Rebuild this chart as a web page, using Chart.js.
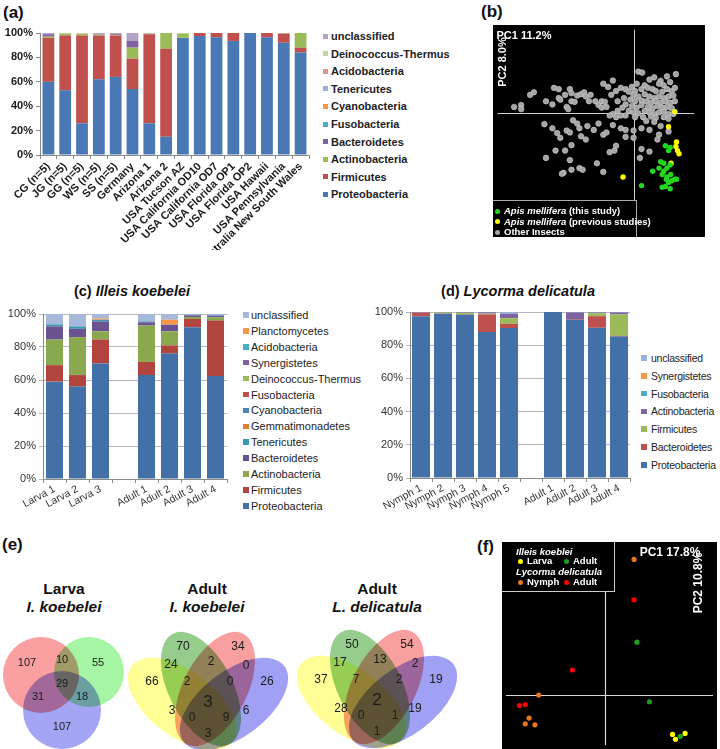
<!DOCTYPE html>
<html><head><meta charset="utf-8">
<script src="https://cdn.jsdelivr.net/npm/chart.js@4/dist/chart.umd.min.js"></script>
<style>
body{margin:0;width:720px;height:749px;position:relative;background:#fff;font-family:"Liberation Sans",Arial,sans-serif;overflow:hidden}
canvas{position:absolute}
.pl{position:absolute;font-weight:bold;font-size:17px;color:#111;line-height:1}
.t{position:absolute;transform:translate(-50%,-50%);white-space:nowrap;line-height:1}
.lg{position:absolute;white-space:nowrap;line-height:1;transform:translateY(-50%)}
.sq{position:absolute}
.bx{position:absolute;background:#000;color:#fff;font-weight:bold;box-sizing:border-box}
.dot{display:inline-block;border-radius:50%;width:5px;height:5px;margin-right:4px;vertical-align:middle}
.li{position:absolute;white-space:nowrap;font-size:9.5px;line-height:1}
</style></head><body>
<div class="pl" style="left:3px;top:4px">(a)</div>
<div class="pl" style="left:481px;top:3px">(b)</div>
<div class="pl" style="left:2px;top:536px">(e)</div>
<div class="pl" style="left:477px;top:538px">(f)</div>

<canvas id="ca" width="316" height="250" style="left:0;top:0"></canvas>
<canvas id="cb" width="212" height="212" style="left:493px;top:25px"></canvas>
<canvas id="cc" width="232" height="230" style="left:0;top:300px"></canvas>
<canvas id="cd" width="268" height="230" style="left:367px;top:300px"></canvas>
<canvas id="ce" width="470" height="129" style="left:0;top:620px"></canvas>
<canvas id="cf" width="215" height="207" style="left:502px;top:542px"></canvas>

<script>
// ---------- DATA ----------
// (a) honey bee gut phyla, stacked bottom -> top
const aCats = ['CG (n=5)','JG (n=5)','GG (n=5)','WS (n=5)','SS (n=5)','Germany','Arizona 1','Arizona 2','USA Tucson AZ','USA California OD10','USA California OD7','USA Florida OP1','USA Florida OP2','USA Hawaii','USA Pennsylvania','Australia New South Wales'];
const aSeries = ['Proteobacteria','Firmicutes','Actinobacteria','Bacteroidetes','Fusobacteria','Cyanobacteria','Tenericutes','Acidobacteria','Deinococcus-Thermus','unclassified'];
const aProteobacteria = [60,53,26,62,64,54,26,15,96,97.5,96.5,93.5,100,96.5,92,84];
const aFirmicutes     = [36,45,72,36,34,25,73,72,0,2.5,3.5,6.5,0,3.5,7.5,4];
const aActinobacteria = [1,1.5,1.2,0.8,0.5,9,0.5,13,3.5,0,0,0,0,0,0.3,12];
const aBacteroidetes  = [2,0,0,0.6,1,5.5,0,0,0,0,0,0,0,0,0,0];
const aFusobacteria   = [0,0,0,0,0,0,0,0,0,0,0,0,0,0,0,0];
const aCyanobacteria  = [0,0,0,0,0,0,0,0,0,0,0,0,0,0,0,0];
const aTenericutes    = [0,0,0,0,0,0,0,0,0,0,0,0,0,0,0,0];
const aAcidobacteria  = [0,0,0,0,0,0,0,0,0,0,0,0,0,0,0,0];
const aDeinococcus    = [0,0.5,0.5,0,0,0,0,0,0.5,0,0,0,0,0,0,0];
const aUnclassified   = [1,0,0.3,0.6,0.5,6.5,0.5,0,0,0,0,0,0,0,0.2,0];
const aTicks = [0,20,40,60,80,100];

// (b) PCA (positions, PC1 right, PC2 down-reversed units)
const bAxisCross = [497,338];
const bApisThis = [[595,440],[610,445],[605,455],[580,490],[590,495],[555,520],[575,510],[590,520],[585,530],[600,510],[610,500],[598,545],[605,555],[615,550],[625,545],[630,545],[585,570],[595,568],[610,575],[520,565],[612,530],[600,538]];
const bApisPrev = [[625,333],[605,380],[630,428],[628,442],[633,455],[638,465],[613,495],[462,538]];
const bOther = [[120,318],[142,312],[142,325],[170,280],[182,272],[220,300],[240,310],[245,258],[260,262],[260,290],[265,295],[280,280],[285,318],[290,325],[295,262],[300,275],[300,300],[310,302],[318,282],[330,278],[340,272],[345,285],[355,300],[360,280],[375,300],[385,312],[395,300],[395,320],[400,245],[405,302],[410,318],[415,255],[430,235],[425,280],[440,268],[455,258],[465,290],[470,310],[445,300],
[215,372],[240,385],[255,400],[265,415],[285,392],[295,398],[300,438],[305,360],[318,370],[325,385],[330,410],[345,420],[350,378],[370,390],[385,370],[400,405],[410,398],[430,375],[455,385],[420,460],[435,455],[220,478],[250,455],[280,455],[295,485],[300,515],[275,525],[270,528],[325,510],[335,515],[380,495],[400,522],[440,440],[470,390],[470,412],
[510,207],[522,210],[628,215],[600,222],[560,225],[545,232],[580,236],[610,240],[575,245],[590,250],[530,250],[505,245],[490,255],[470,262],[480,270],[500,268],[520,262],[540,258],[555,262],[565,268],[585,270],[600,262],[615,268],[625,258],[495,280],[510,285],[530,278],[545,285],[560,290],[575,285],[590,290],[605,285],[620,282],[485,295],[500,300],[520,298],[535,300],[550,305],[565,300],[580,305],[595,300],[610,305],[625,300],[490,315],[505,320],[520,312],[540,318],[555,322],[570,315],[585,320],[600,318],[615,322],[480,330],[495,335],[510,338],[530,330],[545,335],[560,340],[575,335],[590,332],[605,340],[470,345],[500,350],[525,350],[550,348],[565,352],[590,350],[605,355],[445,330],[430,340],[440,350],[455,345],[460,320],[420,345],[620,340],
[535,362],[560,365],[580,378],[605,395],[520,385],[545,390],[575,405],[495,392],[495,415],[520,450],[515,478],[545,458],[570,420]];

// (c) Illeis koebelei
const cCats = ['Larva 1','Larva 2','Larva 3','','Adult 1','Adult 2','Adult 3','Adult 4'];
const cSeries = ['Proteobacteria','Firmicutes','Actinobacteria','Bacteroidetes','Tenericutes','Gemmatimonadetes','Cyanobacteria','Fusobacteria','Deinococcus-Thermus','Synergistetes','Acidobacteria','Planctomycetes','unclassified'];
const cProteobacteria = [59,56,70,null,63,76,92,62.5];
const cFirmicutes     = [10,7,14.5,null,8,5,5,33.5];
const cActinobacteria = [15.5,23,5,null,22,8.5,1.2,2];
const cBacteroidetes  = [8,5,6,null,2,4,1,1];
const cTenericutes    = [1.2,1.5,1,null,0.5,0,0.3,0.3];
const cGemmatimonadetes=[0,0,0.3,null,0,0,0,0];
const cCyanobacteria  = [0,0,0,null,0,0,0,0];
const cFusobacteria   = [0,0,0,null,0,0,0,0];
const cDeinococcus    = [0,0,0,null,0,0,0,0];
const cSynergistetes  = [0,0,0,null,0,0,0,0];
const cAcidobacteria  = [0,0,0,null,0,0,0,0];
const cPlanctomycetes = [0,0,0.5,null,0,3,0,0];
const cUnclassified   = [6.3,7.5,2.7,null,4.5,3.5,0.5,0.7];

// (d) Lycorma delicatula
const dCats = ['Nymph 1','Nymph 2','Nymph 3','Nymph 4','Nymph 5','','Adult 1','Adult 2','Adult 3','Adult 4'];
const dSeries = ['Proteobacteria','Bacteroidetes','Firmicutes','Actinobacteria','Fusobacteria','Synergistetes','unclassified'];
const dProteobacteria = [97.5,98.9,98.3,87.9,90.3,null,100,95.3,90.5,85.2];
const dBacteroidetes  = [2,0.2,0.2,10.6,2.6,null,0,0.4,7,0.5];
const dFirmicutes     = [0,0.6,1,0.5,3.4,null,0,0,1.8,12.8];
const dActinobacteria = [0.3,0.2,0.3,0.8,2.7,null,0,4,0.4,1.2];
const dFusobacteria   = [0,0,0,0,0,null,0,0,0,0];
const dSynergistetes  = [0,0,0,0,0,null,0,0,0,0];
const dUnclassified   = [0.2,0.1,0.2,0.2,1,null,0,0.3,0.3,0.3];

// (e) Venn counts
const vennLarvaCounts   = [107,10,55,31,29,18,107];
const vennAdultIkCounts = [70,34,24,2,0,66,2,0,26,3,3,0,9,6,3];
const vennAdultLdCounts = [50,54,17,13,2,37,7,2,19,2,28,0,1,19,1];

// (f) PCA
const fLarvaIk = [[0.70,-0.41],[0.73,-0.46],[0.83,-0.40]];
const fAdultIk = [[0.33,0.55],[0.46,-0.07],[0.78,-0.43]];
const fNymphLd = [[0.30,1.41],[-0.69,0.00],[-0.79,-0.24],[-0.83,-0.30],[-0.73,-0.31]];
const fAdultLd = [[0.30,0.99],[-0.34,0.26],[-0.89,-0.11],[-0.83,-0.10]];

// ---------- STYLE ----------
const FONT = '"Liberation Sans", Arial, sans-serif';
const aColors = ['#4A78B4','#C0504D','#9BBB59','#8064A2','#4BACC6','#F79646','#95B3D7','#D99694','#C3D69B','#B3A2C7'];
const cColors = ['#4470A8','#B2443F','#8AA84D','#6B5391','#3A98B0','#DE7F35','#4F81BD','#C0504D','#9BBB59','#8064A2','#4BACC6','#F79646','#A6B9DB'];
const dColors = ['#4470A8','#C0504D','#9BBB59','#8064A2','#4BACC6','#F79646','#95B3D7'];

Chart.defaults.font.family = FONT;
Chart.defaults.animation = false;

function legendHTML(names, colors, o) {
  names.forEach((n, i) => {
    const idx = names.length - 1 - i; // top item = last series
    const y = o.y + i * o.step;
    const s = document.createElement('div'); s.className = 'sq';
    s.style.cssText = `left:${o.sx}px;top:${y - o.sz/2}px;width:${o.sz}px;height:${o.sz}px;background:${colors[idx]}`;
    document.body.appendChild(s);
    const t = document.createElement('div'); t.className = 'lg';
    t.textContent = names[idx];
    t.style.cssText = `left:${o.tx}px;top:${y}px;font-size:${o.fs}px;font-weight:${o.bold?'bold':'normal'};color:${o.color};letter-spacing:${o.ls||0}px`;
    document.body.appendChild(t);
  });
}
function text(html, x, y, css) {
  const d = document.createElement('div'); d.className = 't'; d.innerHTML = html;
  d.style.cssText = `left:${x}px;top:${y}px;` + (css || '');
  document.body.appendChild(d);
}

function stackedBar(id, cats, series, values, colors, cfg) {
  return new Chart(document.getElementById(id), {
    type: 'bar',
    data: { labels: cats, datasets: series.map((s, i) => ({ label: s, data: values[i], backgroundColor: colors[i], borderWidth: 0, barPercentage: cfg.bp, categoryPercentage: 1 })) },
    options: {
      responsive: false,
      plugins: { legend: { display: false }, tooltip: { enabled: false } },
      layout: { padding: { top: cfg.top, right: cfg.right, left: 0, bottom: 0 } },
      scales: {
        x: { stacked: true,
             grid: { display: true, drawOnChartArea: false, offset: true, tickLength: 4, color: '#8a8a8a' },
             border: { color: '#8a8a8a' },
             ticks: { minRotation: cfg.rot, maxRotation: cfg.rot, autoSkip: false, padding: cfg.tpad, color: cfg.tickColor,
                      font: { size: cfg.xfs, weight: cfg.bold ? 'bold' : 'normal' } },
             afterFit: s => { s.height = cfg.xh; } },
        y: { stacked: true, min: 0, max: 100,
             afterBuildTicks: s => { s.ticks = aTicks.map(v => ({ value: v })); },
             grid: { drawOnChartArea: cfg.grid, tickLength: 4, color: cfg.grid ? '#b8b8b8' : '#8a8a8a' },
             border: { color: '#8a8a8a' },
             ticks: { callback: v => v + '%', color: cfg.tickColor, padding: 3, font: { size: cfg.yfs, weight: cfg.bold ? 'bold' : 'normal' } },
             afterFit: s => { s.width = cfg.yw; } }
      }
    }
  });
}

// (a)
stackedBar('ca', aCats, aSeries,
  [aProteobacteria,aFirmicutes,aActinobacteria,aBacteroidetes,aFusobacteria,aCyanobacteria,aTenericutes,aAcidobacteria,aDeinococcus,aUnclassified],
  aColors, { bp: 0.7, top: 33, right: 7, rot: 45, xh: 95, yw: 40, xfs: 11, yfs: 11, bold: true, grid: false, tickColor: '#1a1a1a', tpad: 1 });
legendHTML(aSeries, aColors, { sx: 323, tx: 331, y: 36, step: 17.6, sz: 5, fs: 11, bold: true, color: '#222' });

// (c)
stackedBar('cc', cCats, cSeries,
  [cProteobacteria,cFirmicutes,cActinobacteria,cBacteroidetes,cTenericutes,cGemmatimonadetes,cCyanobacteria,cFusobacteria,cDeinococcus,cSynergistetes,cAcidobacteria,cPlanctomycetes,cUnclassified],
  cColors, { bp: 0.74, top: 14, right: 5, rot: 28, xh: 51, yw: 43, xfs: 10.5, yfs: 11, bold: false, grid: true, tickColor: '#333', tpad: 0 });
legendHTML(cSeries, cColors, { sx: 243, tx: 251, y: 315, step: 15.9, sz: 5.5, fs: 11, bold: false, color: '#222' });
text('(c) <i>Illeis koebelei</i>', 132, 291, 'font-size:14.5px;font-weight:bold;color:#111');

// (d)
stackedBar('cd', dCats, dSeries,
  [dProteobacteria,dBacteroidetes,dFirmicutes,dActinobacteria,dFusobacteria,dSynergistetes,dUnclassified],
  dColors, { bp: 0.82, top: 12, right: 5, rot: 28, xh: 52, yw: 43, xfs: 10.5, yfs: 11, bold: false, grid: true, tickColor: '#333', tpad: 0 });
legendHTML(dSeries, dColors, { sx: 641, tx: 651, y: 358, step: 17.8, sz: 5.5, fs: 10.5, bold: false, color: '#222', ls: -0.25 });
text('(d) <i>Lycorma delicatula</i>', 518, 291, 'font-size:14.5px;font-weight:bold;color:#111');

// PCA background + cross lines plugin
const pcaPlugin = {
  id: 'pca',
  beforeDraw(chart) { const { ctx, width, height } = chart; ctx.save(); ctx.fillStyle = '#000'; ctx.fillRect(0, 0, width, height); ctx.restore(); },
  beforeDatasetsDraw(chart, args, o) {
    const { ctx, chartArea: a, scales: { x, y } } = chart;
    ctx.save(); ctx.strokeStyle = o.color; ctx.lineWidth = o.width;
    const px = Math.round(x.getPixelForValue(o.x0)) + 0.5, py = Math.round(y.getPixelForValue(o.y0)) + 0.5;
    ctx.beginPath(); ctx.moveTo(px, a.top); ctx.lineTo(px, a.bottom);
    ctx.moveTo(a.left, py); ctx.lineTo(o.xEnd != null ? x.getPixelForValue(o.xEnd) : a.right, py); ctx.stroke();
    ctx.restore();
  }
};
function scatterCfg(datasets, xr, yr, rev, pOpts) {
  return {
    type: 'scatter',
    data: { datasets },
    options: {
      responsive: false,
      plugins: { legend: { display: false }, tooltip: { enabled: false }, pca: pOpts },
      layout: { padding: 0 },
      scales: {
        x: { type: 'linear', display: false, min: xr[0], max: xr[1] },
        y: { type: 'linear', display: false, min: yr[0], max: yr[1], reverse: rev }
      }
    },
    plugins: [pcaPlugin]
  };
}
const pt = (arr) => arr.map(p => ({ x: p[0], y: p[1] }));

// (b)
new Chart(document.getElementById('cb'), scatterCfg([
  { data: pt(bApisThis), backgroundColor: '#22d81e', borderWidth: 0, pointRadius: 2.7 },
  { data: pt(bApisPrev), backgroundColor: '#ffff00', borderWidth: 0, pointRadius: 2.7 },
  { data: pt(bOther), backgroundColor: '#a4a4a4', borderColor: '#cfcfcf', borderWidth: 0.6, pointRadius: 2.8 }
], [68, 705], [75, 712], true, { x0: bAxisCross[0], y0: bAxisCross[1], xEnd: 686, color: '#d0d0d0', width: 1 }));
text('PC1 11.2%', 524, 35, 'font-size:11px;font-weight:bold;color:#fff');
text('PC2 8.0%', 502, 62, 'font-size:11px;font-weight:bold;color:#fff;transform:translate(-50%,-50%) rotate(-90deg)');

// (b) legend box
(function(){
  const b = document.createElement('div'); b.className = 'bx';
  b.style.cssText = 'left:493px;top:200px;width:144px;height:37px;border-top:1.5px solid #aaa;border-right:1.5px solid #aaa';
  b.innerHTML =
   '<div class="li" style="left:2px;top:5px"><span class="dot" style="background:#22d81e"></span><i>Apis mellifera</i> (this study)</div>' +
   '<div class="li" style="left:2px;top:15.5px"><span class="dot" style="background:#ffff00"></span><i>Apis mellifera</i> (previous studies)</div>' +
   '<div class="li" style="left:2px;top:26px"><span class="dot" style="background:#a4a4a4"></span>Other Insects</div>';
  document.body.appendChild(b);
})();

// (e) Venn diagrams
const larvaShapes = [
  { dx: -21, dy: -9, a: 38, b: 38, rot: 0, color: 'rgb(250,160,160)' },
  { dx: 27, dy: -12, a: 35, b: 35, rot: 0, color: 'rgb(165,245,165)' },
  { dx: 0, dy: 26, a: 39, b: 39, rot: 0, color: 'rgb(165,165,245)' }
];
const larvaLabelPos = [[-35,-21],[0,-24],[36,-21],[-24,13],[0,0],[20,13],[0,43]];
const quadShapes = [
  { dx: -26, dy: 2, a: 63, b: 33, rot: 37, color: 'rgb(255,255,150)' },
  { dx: -7, dy: -13, a: 62, b: 32, rot: 63, color: 'rgb(150,205,140)' },
  { dx: 7, dy: -13, a: 62, b: 32, rot: 117, color: 'rgb(248,160,160)' },
  { dx: 26, dy: 2, a: 63, b: 33, rot: 143, color: 'rgb(160,160,245)' }
];
const quadLabelPos = [[-25,-55],[30,-55],[-37,-37],[3,-40],[38,-36],[-56,-20],[-21,-20],[22,-20],[59,-20],[0,0],[-36,9],[-16,16],[18,16],[38,9],[0,32]];
const vennPlugin = {
  id: 'venn',
  afterDatasetsDraw(chart, args, o) {
    const { ctx, scales: { x, y } } = chart;
    ctx.save();
    for (const d of o.diagrams) {
      ctx.globalCompositeOperation = 'multiply';
      for (const e of d.shapes) {
        const cx = x.getPixelForValue(d.cx + e.dx), cy = y.getPixelForValue(d.cy + e.dy);
        const rx = Math.abs(x.getPixelForValue(d.cx + e.a) - x.getPixelForValue(d.cx));
        const ry = Math.abs(x.getPixelForValue(d.cx + e.b) - x.getPixelForValue(d.cx));
        ctx.beginPath(); ctx.ellipse(cx, cy, rx, ry, e.rot * Math.PI / 180, 0, Math.PI * 2);
        ctx.fillStyle = e.color; ctx.fill();
      }
      ctx.globalCompositeOperation = 'source-over';
      ctx.fillStyle = '#1a1a1a'; ctx.textAlign = 'center'; ctx.textBaseline = 'middle';
      d.counts.forEach((c, i) => {
        const p = d.pos[i];
        ctx.font = (i === d.big ? d.bigSize : d.size) + 'px ' + FONT;
        ctx.fillText(String(c), x.getPixelForValue(d.cx + p[0]), y.getPixelForValue(d.cy + p[1]));
      });
    }
    ctx.restore();
  }
};
new Chart(document.getElementById('ce'), {
  type: 'scatter',
  data: { datasets: [{ data: [] }] },
  options: {
    responsive: false, layout: { padding: 0 },
    plugins: { legend: { display: false }, tooltip: { enabled: false },
      venn: { diagrams: [
        { cx: 62, cy: 684, shapes: larvaShapes, pos: larvaLabelPos, counts: vennLarvaCounts, big: -1, size: 11, bigSize: 11 },
        { cx: 208, cy: 702, shapes: quadShapes, pos: quadLabelPos, counts: vennAdultIkCounts, big: 9, size: 12, bigSize: 17 },
        { cx: 377, cy: 700, shapes: quadShapes, pos: quadLabelPos, counts: vennAdultLdCounts, big: 9, size: 12, bigSize: 17 }
      ] } },
    scales: { x: { display: false, min: 0, max: 470 }, y: { display: false, min: 620, max: 749, reverse: true } }
  },
  plugins: [vennPlugin]
});
const vt = 'font-size:15.5px;font-weight:bold;color:#111';
text('Larva', 64, 589, vt); text('<i>I. koebelei</i>', 64, 607, vt);
text('Adult', 207, 589, vt); text('<i>I. koebelei</i>', 207, 607, vt);
text('Adult', 377, 589, vt); text('<i>L. delicatula</i>', 377, 607, vt);

// (f)
new Chart(document.getElementById('cf'), scatterCfg([
  { data: pt(fLarvaIk), backgroundColor: '#ffff00', borderWidth: 0, pointRadius: 2.6 },
  { data: pt(fAdultIk), backgroundColor: '#1f9e1f', borderWidth: 0, pointRadius: 2.6 },
  { data: pt(fNymphLd), backgroundColor: '#e8761e', borderWidth: 0, pointRadius: 2.6 },
  { data: pt(fAdultLd), backgroundColor: '#ff0000', borderWidth: 0, pointRadius: 2.6 }
], [-1.03, 1.12], [-0.52, 1.55], false, { x0: 0, y0: 0, color: '#d8d8d8', width: 1.2 }));
text('PC1 17.8%', 670, 552, 'font-size:12px;font-weight:bold;color:#fff');
text('PC2 10.8%', 698, 583, 'font-size:12px;font-weight:bold;color:#fff;transform:translate(-50%,-50%) rotate(-90deg)');
(function(){
  const b = document.createElement('div'); b.className = 'bx';
  b.style.cssText = 'left:502px;top:542px;width:113px;height:50px;border-right:1.5px solid #ccc;border-bottom:1.5px solid #ccc';
  b.innerHTML =
   '<div class="li" style="left:14px;top:5px"><i>Illeis koeblei</i></div>' +
   '<div class="li" style="left:16px;top:14px"><span class="dot" style="background:#ffff00"></span>Larva</div>' +
   '<div class="li" style="left:62px;top:14px"><span class="dot" style="background:#1f9e1f"></span>Adult</div>' +
   '<div class="li" style="left:14px;top:25px"><i>Lycorma delicatula</i></div>' +
   '<div class="li" style="left:16px;top:35px"><span class="dot" style="background:#e8761e"></span>Nymph</div>' +
   '<div class="li" style="left:62px;top:35px"><span class="dot" style="background:#ff0000"></span>Adult</div>';
  document.body.appendChild(b);
})();
</script>
</body></html>
